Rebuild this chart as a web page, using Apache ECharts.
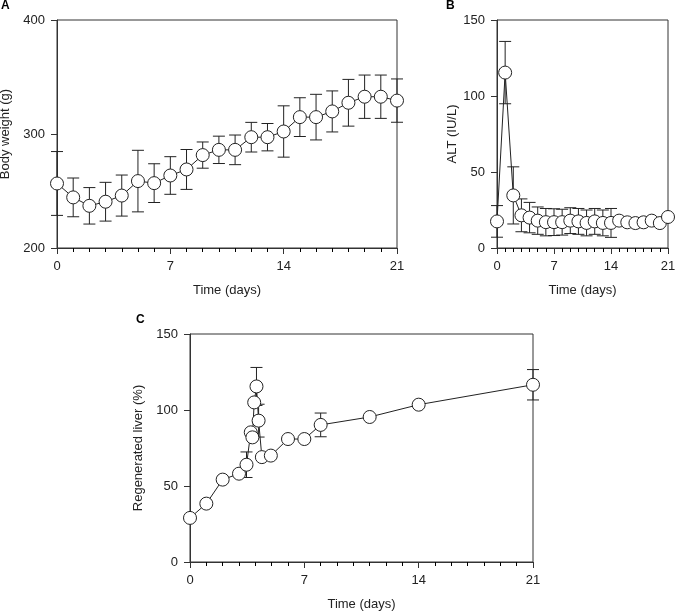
<!DOCTYPE html>
<html>
<head>
<meta charset="utf-8">
<script src="https://cdn.jsdelivr.net/npm/echarts@6/dist/echarts.min.js"></script>
<style>
html,body{margin:0;padding:0;background:#fff;}
#chart{width:676px;height:613px;}
</style>
</head>
<body>
<div id="chart"></div>
<script>
// Panel A: body weight
const daysA = [0,1,2,3,4,5,6,7,8,9,10,11,12,13,14,15,16,17,18,19,20,21];
const weight = [256.6,244.4,237,240.6,246,258.7,256.9,263.6,268.9,281.5,286.1,286.1,297.2,297.2,302.2,314.8,314.8,319.8,327.4,332.7,332.7,329.3];
const weightSD = [28,17,16,17,18,27,17,16.5,17.5,11.5,12,13,13,12,22.5,17,20,18,20.5,19,19,19];

// Panel B: ALT
const daysB = [0,1,2,3,4,5,6,7,8,9,10,11,12,13,14,15,16,17,18,19,20,21];
const alt = [17.5,115.4,34.6,21.5,20,18,17,17,17,18,17.5,16.5,17.5,16.5,16.5,18,16.9,16.4,16.9,18,16.4,20.4];
const altSD = [10.4,20.5,18.8,10.8,10,9,9,8.8,8.5,8.5,8.5,8.5,8.5,8.5,9.5,null,null,null,null,null,null,null];

// Panel C: regenerated liver
const daysC = [0,1,2,3,3.46,3.72,3.82,3.93,4.07,4.2,4.4,4.95,6,7,8,11,14,21];
const regen = [29,38.4,54.2,58.1,64,85.3,82,105,115.5,93,69,70,80.9,80.9,90.2,95.4,103.5,116.6];
const regenSD = [null,null,null,null,8.4,null,null,null,12.5,10.8,null,null,null,null,7.8,null,null,10];

const xTicks = [0,7,14,21];

const FONT = 'Liberation Sans, Arial, sans-serif';
const INK = '#222';
const FRAME = '#333';
const GRID_H = 228;

function pairs(xs, ys){ return xs.map((x,i)=>[x, ys[i]]); }
function errData(xs, ys, sds){
  const out = [];
  xs.forEach((x,i)=>{ if (sds[i] != null) out.push([x, ys[i], sds[i]]); });
  return out;
}
function errRender(params, api){
  const x = api.value(0), m = api.value(1), s = api.value(2);
  const top = api.coord([x, m + s]);
  const bot = api.coord([x, m - s]);
  const hw = 6;
  const st = {stroke: INK, lineWidth: 1, fill: null};
  return {type:'group', children:[
    {type:'line', shape:{x1:top[0], y1:top[1], x2:bot[0], y2:bot[1]}, style:st},
    {type:'line', shape:{x1:top[0]-hw, y1:top[1], x2:top[0]+hw, y2:top[1]}, style:st},
    {type:'line', shape:{x1:bot[0]-hw, y1:bot[1], x2:bot[0]+hw, y2:bot[1]}, style:st}
  ]};
}

function xAxis(idx){
  return {
    type:'value', gridIndex: idx, min:0, max:21, interval:7, position:'bottom',
    name:'Time (days)', nameLocation:'middle', nameGap:36,
    nameTextStyle:{fontFamily:FONT, fontSize:13, color:INK},
    axisLine:{lineStyle:{color:FRAME, width:1}},
    axisTick:{show:true, length:6, lineStyle:{color:FRAME, width:1}},
    minorTick:{show:true, splitNumber:7, length:4, lineStyle:{color:'#000', width:1}},
    axisLabel:{fontFamily:FONT, fontSize:13, color:INK, margin:12},
    splitLine:{show:false},
    minorSplitLine:{show:false}
  };
}
function yAxis(idx, min, max, interval, name, gap){
  return {
    type:'value', gridIndex: idx, min, max, interval,
    name, nameLocation:'middle', nameGap:gap, nameRotate:90,
    nameTextStyle:{fontFamily:FONT, fontSize:13, color:INK},
    axisLine:{show:true, lineStyle:{color:FRAME, width:1}},
    axisTick:{show:true, length:6, lineStyle:{color:FRAME}},
    axisLabel:{fontFamily:FONT, fontSize:13, color:INK, margin:12},
    splitLine:{show:false}
  };
}
function lineSeries(idx, data){
  return {
    type:'line', xAxisIndex:idx, yAxisIndex:idx, data,
    symbol:'circle', symbolSize:13, showAllSymbol:true,
    lineStyle:{color:INK, width:1},
    itemStyle:{color:'#fff', borderColor:INK, borderWidth:1},
    emphasis:{disabled:true}, z:3, animation:false
  };
}
function errSeries(idx, data){
  return {
    type:'custom', xAxisIndex:idx, yAxisIndex:idx, data,
    renderItem: errRender, z:2, animation:false, silent:true
  };
}

const gridBase = {show:true, borderColor:FRAME, borderWidth:1, backgroundColor:'transparent', outerBoundsMode:'none', containLabel:false};

const chart = echarts.init(document.getElementById('chart'), null, {renderer:'canvas'});
chart.setOption({
  backgroundColor:'#fff',
  animation:false,
  grid:[
    Object.assign({left:57, top:20, width:340, height:GRID_H}, gridBase),
    Object.assign({left:497, top:20, width:171, height:GRID_H}, gridBase),
    Object.assign({left:190, top:334, width:343, height:GRID_H}, gridBase)
  ],
  xAxis:[xAxis(0), xAxis(1), xAxis(2)],
  yAxis:[
    yAxis(0, 200, 400, 100, 'Body weight (g)', 40),
    yAxis(1, 0, 150, 50, 'ALT (IU/L)', 38),
    yAxis(2, 0, 150, 50, 'Regenerated liver (%)', 36)
  ],
  graphic:[
    {type:'text', left:1, top:0, style:{text:'A', font:'bold 12px '+FONT, fill:'#000'}},
    {type:'text', left:446, top:0, style:{text:'B', font:'bold 12px '+FONT, fill:'#000'}},
    {type:'text', left:136, top:314, style:{text:'C', font:'bold 12px '+FONT, fill:'#000'}}
  ],
  series:[
    errSeries(0, errData(daysA, weight, weightSD)),
    lineSeries(0, pairs(daysA, weight)),
    errSeries(1, errData(daysB, alt, altSD)),
    lineSeries(1, pairs(daysB, alt)),
    errSeries(2, errData(daysC, regen, regenSD)),
    lineSeries(2, pairs(daysC, regen))
  ]
});
</script>
</body>
</html>
